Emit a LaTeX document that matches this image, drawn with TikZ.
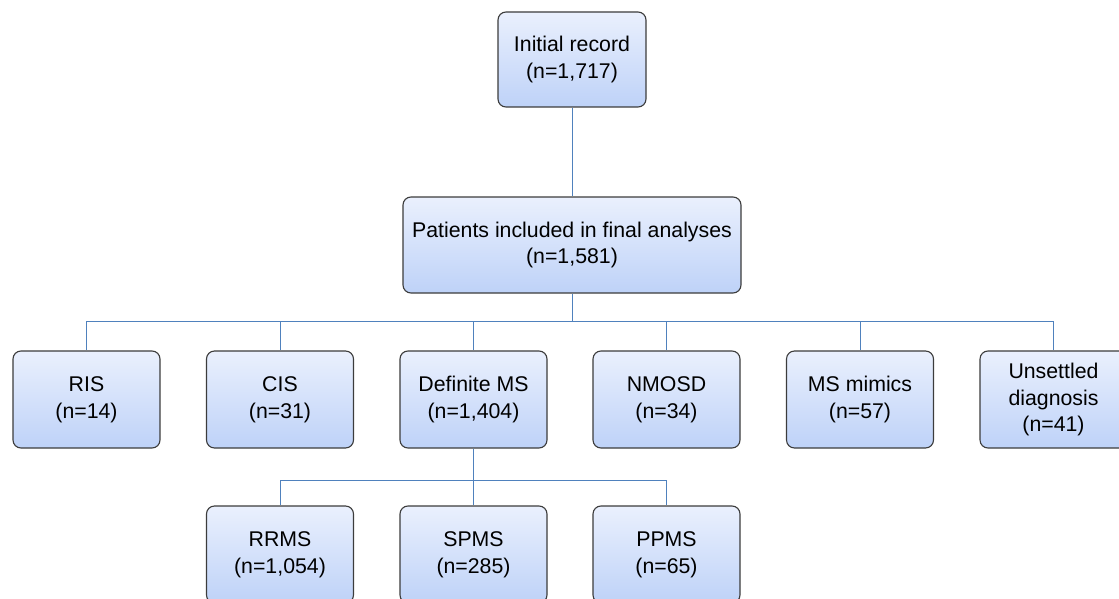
\documentclass[tikz,border=0pt]{standalone}
\usepackage{fontspec}
\setmainfont{Liberation Sans}
\begin{document}
\begin{tikzpicture}[x=1pt,y=-1pt,
  box/.style={draw={rgb,255:red,60;green,60;blue,60}, line width=1.1pt, rounded corners=8pt,
    top color={rgb,255:red,234;green,240;blue,253}, bottom color={rgb,255:red,190;green,210;blue,248},
    minimum width=147pt, minimum height=97pt, align=center, inner sep=2pt,
    font=\fontsize{21.3}{26.8}\selectfont},
  conn/.style={draw={rgb,255:red,79;green,129;blue,189}, line width=1pt}]
\useasboundingbox (0,0) rectangle (1119,599);
\clip (0,0) rectangle (1119,599);
\node[box, minimum width=148pt, minimum height=95pt] (init) at (572,59.5) {Initial record\\(n=1,717)};
\node[box, minimum width=338pt, minimum height=96pt] (pat) at (572,245) {Patients included in final analyses\\(n=1,581)};
\node[box] (ris) at (86.5,399.5) {RIS\\(n=14)};
\node[box] (cis) at (280,399.5) {CIS\\(n=31)};
\node[box] (dms) at (473.5,399.5) {Definite MS\\(n=1,404)};
\node[box] (nmo) at (666.5,399.5) {NMOSD\\(n=34)};
\node[box] (mim) at (860,399.5) {MS mimics\\(n=57)};
\node[box] (uns) at (1053.5,399.5) {Unsettled\\diagnosis\\(n=41)};
\node[box] (rr) at (280,554.5) {RRMS\\(n=1,054)};
\node[box] (sp) at (473.5,554.5) {SPMS\\(n=285)};
\node[box] (pp) at (666.5,554.5) {PPMS\\(n=65)};
\coordinate (bus1) at (0,321);
\coordinate (bus2) at (0,480);
\draw[conn] (init.south) -- (pat.north);
\draw[conn] (pat.south) -- (pat.south |- bus1);
\draw[conn] (ris.north |- bus1) -- (uns.north |- bus1);
\foreach \n in {ris,cis,dms,nmo,mim,uns} {\draw[conn] (\n.north |- bus1) -- (\n.north);}
\draw[conn] (dms.south) -- (dms.south |- bus2);
\draw[conn] (rr.north |- bus2) -- (pp.north |- bus2);
\foreach \n in {rr,sp,pp} {\draw[conn] (\n.north |- bus2) -- (\n.north);}
\end{tikzpicture}
\end{document}
